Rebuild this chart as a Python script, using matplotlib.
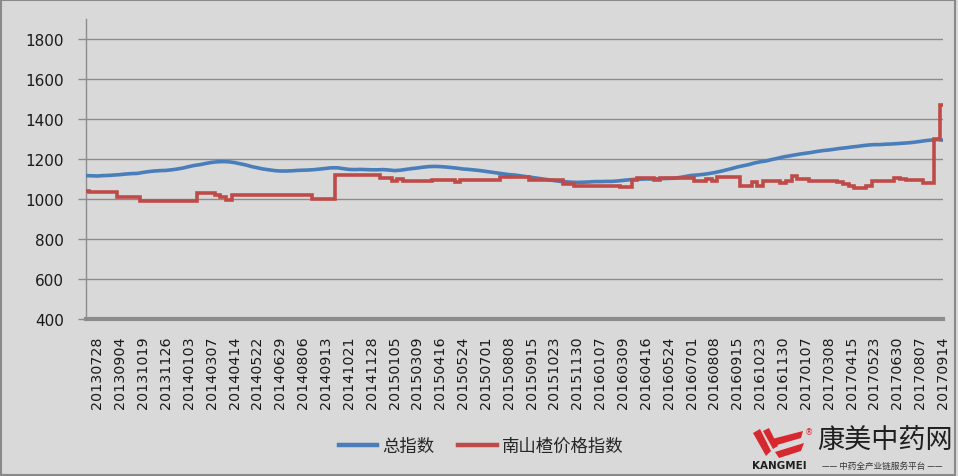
import numpy as np
import matplotlib
matplotlib.use("Agg")
import matplotlib.pyplot as plt
from matplotlib.lines import Line2D
from matplotlib.patches import Rectangle, Polygon

plt.rcParams['font.family'] = ['DejaVu Sans', 'Noto Sans CJK SC']

# ---------------- data ----------------
date_labels = ["20130728", "20130904", "20131019", "20131126", "20140103", "20140307",
               "20140414", "20140522", "20140629", "20140806", "20140913", "20141021",
               "20141128", "20150105", "20150309", "20150416", "20150524", "20150701",
               "20150808", "20150915", "20151023", "20151130", "20160107", "20160309",
               "20160416", "20160524", "20160701", "20160808", "20160915", "20161023",
               "20161130", "20170107", "20170308", "20170415", "20170523", "20170630",
               "20170807", "20170914"]

series_names = ["总指数", "南山楂价格指数"]

total_index = [
    1117, 1116, 1115, 1117, 1118, 1120, 1122, 1125, 1127, 1128,
    1133, 1137, 1140, 1142, 1143, 1146, 1150, 1155, 1162, 1168,
    1172, 1178, 1183, 1186, 1187, 1186, 1182, 1176, 1170, 1162,
    1156, 1150, 1146, 1142, 1140, 1140, 1141, 1143, 1144, 1145,
    1147, 1150, 1153, 1156, 1156, 1152, 1148, 1147, 1148, 1147,
    1146, 1146, 1147, 1145, 1142, 1144, 1148, 1152, 1155, 1159,
    1162, 1163, 1162, 1160, 1157, 1154, 1150, 1148, 1145, 1142,
    1138, 1134, 1130, 1126, 1122, 1120, 1116, 1112, 1108, 1104,
    1100, 1096, 1092, 1088, 1086, 1084, 1083, 1084, 1085, 1087,
    1087, 1088, 1088, 1090, 1093, 1096, 1098, 1099, 1100, 1100,
    1101, 1102, 1103, 1104, 1108, 1113, 1118, 1120, 1123, 1127,
    1132, 1138, 1145, 1152, 1160, 1166, 1172, 1180, 1186, 1190,
    1197, 1203, 1210, 1215, 1220, 1225, 1229, 1233, 1238, 1242,
    1245, 1249, 1253, 1256, 1260, 1263, 1267, 1270, 1272, 1272,
    1274, 1275, 1277, 1279, 1281, 1284, 1288, 1292, 1295, 1297,
    1294]

hawthorn_index = [
    1040, 1033, 1033, 1033, 1033, 1033, 1008, 1008, 1008, 1008,
    988, 988, 988, 988, 988, 988, 988, 988, 988, 988,
    1030, 1030, 1030, 1020, 1008, 997, 1020, 1020, 1020, 1020,
    1020, 1020, 1020, 1020, 1020, 1020, 1020, 1020, 1020, 1020,
    998, 998, 998, 998, 1118, 1118, 1118, 1118, 1118, 1118,
    1118, 1118, 1105, 1105, 1090, 1100, 1088, 1088, 1088, 1088,
    1088, 1097, 1097, 1097, 1097, 1083, 1097, 1097, 1097, 1097,
    1097, 1097, 1097, 1112, 1112, 1112, 1112, 1112, 1097, 1097,
    1097, 1097, 1097, 1097, 1075, 1075, 1067, 1067, 1067, 1067,
    1067, 1067, 1067, 1067, 1060, 1060, 1095, 1105, 1105, 1105,
    1097, 1103, 1103, 1103, 1103, 1103, 1103, 1092, 1092, 1100,
    1092, 1108, 1108, 1108, 1108, 1063, 1063, 1085, 1063, 1092,
    1092, 1092, 1078, 1092, 1113, 1100, 1100, 1092, 1092, 1092,
    1092, 1092, 1083, 1075, 1067, 1053, 1053, 1067, 1092, 1092,
    1092, 1092, 1105, 1100, 1097, 1097, 1097, 1080, 1080, 1300,
    1470]

y_ticks = [400, 600, 800, 1000, 1200, 1400, 1600, 1800]

# ---------------- figure ----------------
W, H = 958, 477
BG = '#d9d9d9'
GRID = '#8c8c8c'
BLUE = '#4a7ebb'
RED = '#be4b48'

fig = plt.figure(figsize=(W / 100, H / 100), dpi=100, facecolor=BG)


def fx(px):
    return px / W


def fy(py):
    return 1 - py / H


ax = fig.add_axes([fx(86), fy(320), (943 - 86) / W, (320 - 20) / H])
ax.set_facecolor(BG)

x = np.arange(len(total_index))
tick_pos = np.arange(2, len(total_index), 4)

ax.plot(x, total_index, color=BLUE, lw=2.6, solid_capstyle='round',
        solid_joinstyle='round', zorder=3)
ax.plot(x, hawthorn_index, color=RED, lw=2.6, drawstyle='steps-mid',
        solid_joinstyle='miter', zorder=4)

ax.set_xlim(0, len(total_index) - 1)
ax.set_ylim(400, 1900)
ax.set_yticks(y_ticks)
ax.set_yticklabels([str(v) for v in y_ticks])
ax.set_xticks(tick_pos)
ax.set_xticklabels(date_labels, rotation=90)

ax.grid(axis='y', color=GRID, lw=1.0, zorder=1)
ax.grid(axis='x', visible=False)
ax.set_axisbelow(True)

for s in ['top', 'right']:
    ax.spines[s].set_visible(False)
ax.spines['left'].set_color(GRID)
ax.spines['left'].set_linewidth(1.0)
ax.spines['bottom'].set_color(GRID)
ax.spines['bottom'].set_linewidth(3.0)
ax.spines['bottom'].set_zorder(2)

ax.tick_params(axis='y', length=6, width=1, color=GRID, direction='out',
               pad=10, labelsize=11, labelcolor='#1a1a1a')
ax.tick_params(axis='x', length=0, pad=12, labelsize=10.3, labelcolor='#1a1a1a')

# legend
handles = [Line2D([], [], color=BLUE, lw=3.2),
           Line2D([], [], color=RED, lw=3.2)]
fig.legend(handles, series_names, loc='center',
           bbox_to_anchor=(fx(481), fy(447)), ncol=2, frameon=False,
           prop={'family': ['Noto Sans CJK SC', 'DejaVu Sans'], 'size': 12.5},
           handlelength=2.2, handletextpad=0.3, columnspacing=1.4,
           labelcolor='#262626')

# figure border
fig.patches.append(Rectangle((0.001, 0.002), 0.996, 0.996, transform=fig.transFigure,
                             fill=False, edgecolor='#8a8a8a', lw=1.5))

# logo (decoration)
logo_red = '#d7282f'
for pts in [
    [(753, 434), (760, 430), (771, 452), (766, 457)],
    [(763, 432), (769, 429), (778, 447), (773, 450)],
    [(772, 440), (803, 432), (801, 439), (777, 446)],
    [(775, 453), (804, 444), (801, 452), (779, 459)],
]:
    fig.patches.append(Polygon([(fx(a), fy(b)) for a, b in pts], closed=True,
                               transform=fig.transFigure, facecolor=logo_red,
                               edgecolor='none'))
fig.text(fx(809), fy(433), "®", fontsize=6, color=logo_red, ha='center', va='center')
fig.text(fx(885), fy(440), "康美中药网", fontsize=19.5, color='#1f1f1f',
         family=['Noto Sans CJK SC', 'DejaVu Sans'], ha='center', va='center')
fig.text(fx(779), fy(466), "KANGMEI", fontsize=7.5, fontweight='bold', color='#1f1f1f',
         ha='center', va='center')
fig.text(fx(882), fy(466), "—— 中药全产业链服务平台 ——", fontsize=6.2, color='#333333',
         family=['Noto Sans CJK SC', 'DejaVu Sans'], ha='center', va='center')

fig.savefig('out.png', dpi=100, facecolor=BG)
